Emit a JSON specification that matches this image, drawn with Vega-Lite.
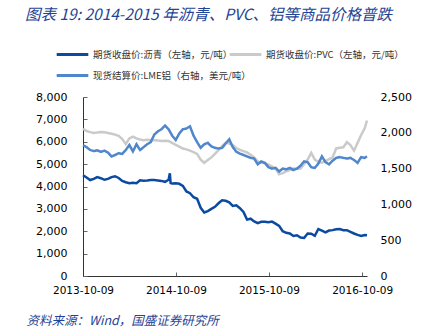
{
  "$schema": "https://vega.github.io/schema/vega-lite/v6.json",
  "width": 284,
  "height": 179,
  "autosize": {"type": "none"},
  "padding": {"left": 83, "top": 97, "right": 75, "bottom": 51},
  "background": "white",
  "config": {
    "view": {"stroke": null},
    "font": "DejaVu Sans",
    "axis": {"grid": false, "labelFont": "DejaVu Sans", "labelColor": "#000", "labelFontSize": 10.5},
    "legend": {
      "title": null,
      "orient": "none",
      "symbolType": "stroke",
      "symbolSize": 1000,
      "symbolStrokeWidth": 3,
      "labelFont": "Noto Sans CJK SC",
      "labelFontSize": 9.5,
      "labelColor": "#333",
      "labelLimit": 250,
      "labelOffset": 3
    }
  },
  "title": {
    "text": "图表 19:  2014-2015 年沥青、PVC、铝等商品价格普跌",
    "anchor": "start",
    "frame": "group",
    "dx": -58,
    "dy": -10,
    "font": "Noto Sans CJK SC",
    "fontSize": 15.5,
    "fontStyle": "italic",
    "fontWeight": "normal",
    "color": "#1f4496"
  },
  "datasets": {
    "a": [
      {"d": "2013-10-09", "v": 4500}, {"d": "2013-10-23", "v": 4400}, {"d": "2013-11-06", "v": 4290}, {"d": "2013-11-20", "v": 4340},
      {"d": "2013-12-04", "v": 4420}, {"d": "2013-12-18", "v": 4370}, {"d": "2014-01-01", "v": 4300}, {"d": "2014-01-15", "v": 4340},
      {"d": "2014-01-29", "v": 4420}, {"d": "2014-02-12", "v": 4460}, {"d": "2014-02-26", "v": 4380}, {"d": "2014-03-12", "v": 4250},
      {"d": "2014-03-26", "v": 4190}, {"d": "2014-04-09", "v": 4150}, {"d": "2014-04-23", "v": 4170}, {"d": "2014-05-07", "v": 4150},
      {"d": "2014-05-21", "v": 4280}, {"d": "2014-06-04", "v": 4260}, {"d": "2014-06-18", "v": 4270}, {"d": "2014-07-02", "v": 4285},
      {"d": "2014-07-16", "v": 4285}, {"d": "2014-07-30", "v": 4270}, {"d": "2014-08-13", "v": 4250}, {"d": "2014-08-27", "v": 4210},
      {"d": "2014-09-10", "v": 4300}, {"d": "2014-09-15", "v": 4590}, {"d": "2014-09-18", "v": 4150}, {"d": "2014-09-24", "v": 4130},
      {"d": "2014-10-08", "v": 4140}, {"d": "2014-10-22", "v": 4120}, {"d": "2014-11-05", "v": 4030}, {"d": "2014-11-19", "v": 3780},
      {"d": "2014-12-03", "v": 3700}, {"d": "2014-12-17", "v": 3520}, {"d": "2014-12-31", "v": 3450}, {"d": "2015-01-14", "v": 3050},
      {"d": "2015-01-28", "v": 2840}, {"d": "2015-02-11", "v": 2900}, {"d": "2015-02-25", "v": 3000}, {"d": "2015-03-11", "v": 3090},
      {"d": "2015-03-25", "v": 3250}, {"d": "2015-04-08", "v": 3380}, {"d": "2015-04-22", "v": 3360}, {"d": "2015-05-06", "v": 3290},
      {"d": "2015-05-20", "v": 3130}, {"d": "2015-06-03", "v": 3160}, {"d": "2015-06-17", "v": 3030}, {"d": "2015-07-01", "v": 2860},
      {"d": "2015-07-15", "v": 2520}, {"d": "2015-07-29", "v": 2560}, {"d": "2015-08-12", "v": 2440}, {"d": "2015-08-26", "v": 2360},
      {"d": "2015-09-09", "v": 2420}, {"d": "2015-09-23", "v": 2420}, {"d": "2015-10-07", "v": 2400}, {"d": "2015-10-21", "v": 2430},
      {"d": "2015-11-04", "v": 2340}, {"d": "2015-11-18", "v": 2240}, {"d": "2015-12-02", "v": 2000}, {"d": "2015-12-16", "v": 1930},
      {"d": "2015-12-30", "v": 1900}, {"d": "2016-01-13", "v": 1790}, {"d": "2016-01-27", "v": 1820}, {"d": "2016-02-10", "v": 1720},
      {"d": "2016-02-24", "v": 1700}, {"d": "2016-03-09", "v": 1900}, {"d": "2016-03-23", "v": 1890}, {"d": "2016-04-06", "v": 1800},
      {"d": "2016-04-20", "v": 2100}, {"d": "2016-05-04", "v": 2030}, {"d": "2016-05-18", "v": 1950}, {"d": "2016-06-01", "v": 2030},
      {"d": "2016-06-15", "v": 2050}, {"d": "2016-06-29", "v": 2090}, {"d": "2016-07-13", "v": 2100}, {"d": "2016-07-27", "v": 2050},
      {"d": "2016-08-10", "v": 2050}, {"d": "2016-08-24", "v": 1970}, {"d": "2016-09-07", "v": 1900}, {"d": "2016-09-21", "v": 1840},
      {"d": "2016-10-05", "v": 1790}, {"d": "2016-10-19", "v": 1830}, {"d": "2016-10-28", "v": 1820}
    ],
    "p": [
      {"d": "2013-10-09", "v": 6580}, {"d": "2013-10-23", "v": 6480}, {"d": "2013-11-06", "v": 6430}, {"d": "2013-11-20", "v": 6390},
      {"d": "2013-12-04", "v": 6410}, {"d": "2013-12-18", "v": 6440}, {"d": "2014-01-01", "v": 6420}, {"d": "2014-01-15", "v": 6390},
      {"d": "2014-01-29", "v": 6360}, {"d": "2014-02-12", "v": 6320}, {"d": "2014-02-26", "v": 6260}, {"d": "2014-03-12", "v": 6120},
      {"d": "2014-03-26", "v": 5900}, {"d": "2014-04-09", "v": 6150}, {"d": "2014-04-23", "v": 6230}, {"d": "2014-05-07", "v": 6150},
      {"d": "2014-05-21", "v": 6100}, {"d": "2014-06-04", "v": 6070}, {"d": "2014-06-18", "v": 6090}, {"d": "2014-07-02", "v": 6080},
      {"d": "2014-07-16", "v": 6070}, {"d": "2014-07-30", "v": 6060}, {"d": "2014-08-13", "v": 6030}, {"d": "2014-08-27", "v": 6040},
      {"d": "2014-09-10", "v": 6030}, {"d": "2014-09-24", "v": 5950}, {"d": "2014-10-08", "v": 5860}, {"d": "2014-10-22", "v": 5780},
      {"d": "2014-11-05", "v": 5700}, {"d": "2014-11-19", "v": 5660}, {"d": "2014-12-03", "v": 5600}, {"d": "2014-12-17", "v": 5540},
      {"d": "2014-12-31", "v": 5460}, {"d": "2015-01-14", "v": 5200}, {"d": "2015-01-28", "v": 5060}, {"d": "2015-02-11", "v": 5180},
      {"d": "2015-02-25", "v": 5300}, {"d": "2015-03-11", "v": 5460}, {"d": "2015-03-25", "v": 5620}, {"d": "2015-04-08", "v": 5800},
      {"d": "2015-04-22", "v": 5950}, {"d": "2015-05-06", "v": 5920}, {"d": "2015-05-20", "v": 5850}, {"d": "2015-06-03", "v": 5720},
      {"d": "2015-06-17", "v": 5640}, {"d": "2015-07-01", "v": 5580}, {"d": "2015-07-15", "v": 5520}, {"d": "2015-07-29", "v": 5420},
      {"d": "2015-08-12", "v": 5300}, {"d": "2015-08-26", "v": 5120}, {"d": "2015-09-09", "v": 5060}, {"d": "2015-09-23", "v": 5040},
      {"d": "2015-10-07", "v": 4980}, {"d": "2015-10-21", "v": 4900}, {"d": "2015-11-04", "v": 4800}, {"d": "2015-11-18", "v": 4550},
      {"d": "2015-12-02", "v": 4600}, {"d": "2015-12-16", "v": 4680}, {"d": "2015-12-30", "v": 4730}, {"d": "2016-01-13", "v": 4800},
      {"d": "2016-01-27", "v": 4790}, {"d": "2016-02-10", "v": 4800}, {"d": "2016-02-24", "v": 5000}, {"d": "2016-03-09", "v": 5200},
      {"d": "2016-03-23", "v": 5500}, {"d": "2016-04-06", "v": 5200}, {"d": "2016-04-20", "v": 5100}, {"d": "2016-05-04", "v": 5060},
      {"d": "2016-05-18", "v": 5140}, {"d": "2016-06-01", "v": 5220}, {"d": "2016-06-15", "v": 5300}, {"d": "2016-06-29", "v": 5700},
      {"d": "2016-07-13", "v": 5730}, {"d": "2016-07-27", "v": 5750}, {"d": "2016-08-10", "v": 5980}, {"d": "2016-08-24", "v": 5850},
      {"d": "2016-09-07", "v": 5600}, {"d": "2016-09-21", "v": 5950}, {"d": "2016-10-05", "v": 6300}, {"d": "2016-10-19", "v": 6600},
      {"d": "2016-10-28", "v": 6950}
    ],
    "l": [
      {"d": "2013-10-09", "v": 1826}, {"d": "2013-10-23", "v": 1800}, {"d": "2013-11-06", "v": 1760}, {"d": "2013-11-20", "v": 1745},
      {"d": "2013-12-04", "v": 1755}, {"d": "2013-12-18", "v": 1735}, {"d": "2014-01-01", "v": 1750}, {"d": "2014-01-15", "v": 1725},
      {"d": "2014-01-29", "v": 1670}, {"d": "2014-02-12", "v": 1690}, {"d": "2014-02-26", "v": 1715}, {"d": "2014-03-12", "v": 1705},
      {"d": "2014-03-26", "v": 1760}, {"d": "2014-04-09", "v": 1830}, {"d": "2014-04-23", "v": 1740}, {"d": "2014-05-07", "v": 1840},
      {"d": "2014-05-21", "v": 1760}, {"d": "2014-06-04", "v": 1800}, {"d": "2014-06-18", "v": 1840}, {"d": "2014-07-02", "v": 1870},
      {"d": "2014-07-16", "v": 1975}, {"d": "2014-07-30", "v": 2020}, {"d": "2014-08-13", "v": 2050}, {"d": "2014-08-27", "v": 2100},
      {"d": "2014-09-10", "v": 2050}, {"d": "2014-09-24", "v": 1960}, {"d": "2014-10-08", "v": 1900}, {"d": "2014-10-22", "v": 1990},
      {"d": "2014-11-05", "v": 2050}, {"d": "2014-11-19", "v": 2060}, {"d": "2014-12-03", "v": 2090}, {"d": "2014-12-17", "v": 1960},
      {"d": "2014-12-31", "v": 1870}, {"d": "2015-01-14", "v": 1790}, {"d": "2015-01-28", "v": 1840}, {"d": "2015-02-11", "v": 1860},
      {"d": "2015-02-25", "v": 1810}, {"d": "2015-03-11", "v": 1790}, {"d": "2015-03-25", "v": 1780}, {"d": "2015-04-08", "v": 1790},
      {"d": "2015-04-22", "v": 1850}, {"d": "2015-05-06", "v": 1910}, {"d": "2015-05-20", "v": 1800}, {"d": "2015-06-03", "v": 1735},
      {"d": "2015-06-17", "v": 1710}, {"d": "2015-07-01", "v": 1690}, {"d": "2015-07-15", "v": 1670}, {"d": "2015-07-29", "v": 1650},
      {"d": "2015-08-12", "v": 1640}, {"d": "2015-08-26", "v": 1560}, {"d": "2015-09-09", "v": 1600}, {"d": "2015-09-23", "v": 1580},
      {"d": "2015-10-07", "v": 1520}, {"d": "2015-10-21", "v": 1500}, {"d": "2015-11-04", "v": 1510}, {"d": "2015-11-18", "v": 1460},
      {"d": "2015-12-02", "v": 1500}, {"d": "2015-12-16", "v": 1490}, {"d": "2015-12-30", "v": 1510}, {"d": "2016-01-13", "v": 1480},
      {"d": "2016-01-27", "v": 1500}, {"d": "2016-02-10", "v": 1540}, {"d": "2016-02-24", "v": 1600}, {"d": "2016-03-09", "v": 1590},
      {"d": "2016-03-23", "v": 1520}, {"d": "2016-04-06", "v": 1510}, {"d": "2016-04-20", "v": 1570}, {"d": "2016-05-04", "v": 1670},
      {"d": "2016-05-18", "v": 1590}, {"d": "2016-06-01", "v": 1560}, {"d": "2016-06-15", "v": 1610}, {"d": "2016-06-29", "v": 1650},
      {"d": "2016-07-13", "v": 1660}, {"d": "2016-07-27", "v": 1650}, {"d": "2016-08-10", "v": 1640}, {"d": "2016-08-24", "v": 1650},
      {"d": "2016-09-07", "v": 1620}, {"d": "2016-09-21", "v": 1580}, {"d": "2016-10-05", "v": 1660}, {"d": "2016-10-19", "v": 1650},
      {"d": "2016-10-28", "v": 1670}
    ]
  },
  "encoding": {
    "x": {
      "field": "d",
      "type": "temporal",
      "scale": {
        "type": "utc",
        "domain": [{"year": 2013, "month": 10, "date": 9, "utc": true}, {"year": 2016, "month": 10, "date": 28, "utc": true}]
      },
      "axis": {
        "values": [
          {"year": 2013, "month": 10, "date": 9, "utc": true},
          {"year": 2014, "month": 10, "date": 9, "utc": true},
          {"year": 2015, "month": 10, "date": 9, "utc": true},
          {"year": 2016, "month": 10, "date": 9, "utc": true}
        ],
        "format": "%Y-%m-%d",
        "labelAngle": 0,
        "labelFlush": false,
        "labelPadding": 13,
        "domainColor": "#333",
        "tickColor": "#666",
        "tickSize": -4,
        "title": "资料来源：Wind，国盛证券研究所",
        "titleFont": "Noto Sans CJK SC",
        "titleFontSize": 12.5,
        "titleFontStyle": "italic",
        "titleFontWeight": "normal",
        "titleColor": "#1f4496",
        "titleAnchor": "start",
        "titleAlign": "left",
        "titleBaseline": "middle",
        "titleX": -57,
        "titleY": 44
      }
    }
  },
  "layer": [
    {
      "layer": [
        {
          "data": {"name": "p"},
          "mark": {"type": "line", "strokeWidth": 2.5},
          "encoding": {
            "y": {"field": "v", "type": "quantitative"},
            "color": {
              "datum": "期货收盘价:PVC（左轴，元/吨）",
              "scale": {"range": ["#cacaca"]},
              "legend": {"legendX": 145, "legendY": -60}
            }
          }
        },
        {
          "data": {"name": "a"},
          "mark": {"type": "line", "strokeWidth": 2.5},
          "encoding": {
            "y": {"field": "v", "type": "quantitative"},
            "stroke": {
              "datum": "期货收盘价:沥青（左轴，元/吨）",
              "scale": {"range": ["#0b4aa0"]},
              "legend": {"legendX": -28, "legendY": -60}
            }
          }
        }
      ],
      "encoding": {
        "y": {
          "field": "v",
          "type": "quantitative",
          "scale": {"domain": [0, 8000], "nice": false},
          "axis": {
            "values": [0, 1000, 2000, 3000, 4000, 5000, 6000, 7000, 8000],
            "format": ",.0f",
            "title": null,
            "domainColor": "#333",
            "tickColor": "#666",
            "tickSize": -4,
            "labelPadding": 20,
            "labelFontSize": 11
          }
        }
      }
    },
    {
      "data": {"name": "l"},
      "mark": {"type": "line", "strokeWidth": 2.5, "color": "#4f86cc"},
      "encoding": {
        "y": {
          "field": "v",
          "type": "quantitative",
          "scale": {"domain": [0, 2500], "nice": false},
          "axis": {
            "orient": "right",
            "values": [0, 500, 1000, 1500, 2000, 2500],
            "format": ",.0f",
            "title": null,
            "domain": false,
            "ticks": false,
            "labelPadding": 13,
            "labelFontSize": 11
          }
        },
        "strokeDash": {
          "datum": "现货结算价:LME铝（右轴，美元/吨）",
          "scale": {"range": [[1, 0]]},
          "legend": {"legendX": -28, "legendY": -39, "symbolStrokeColor": "#4f86cc"}
        }
      }
    }
  ],
  "resolve": {"scale": {"y": "independent"}}
}
